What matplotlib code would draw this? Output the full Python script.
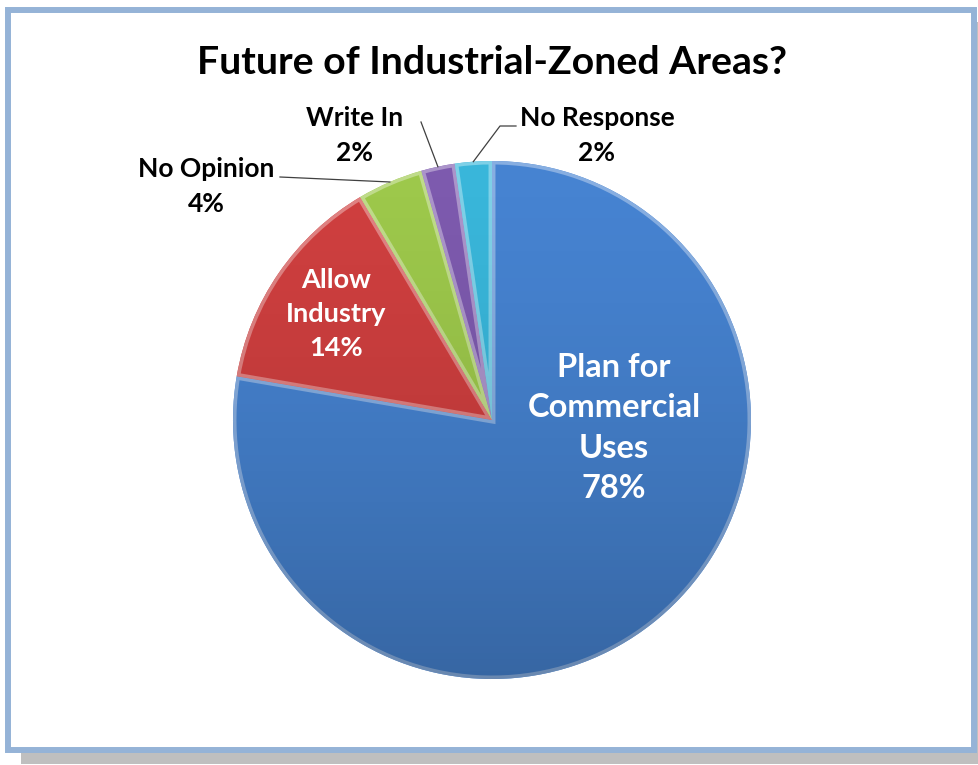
import numpy as np
import matplotlib.pyplot as plt
from matplotlib.patches import Rectangle, Wedge, Circle
from matplotlib.colors import to_rgb

plt.rcParams['font.family'] = ['Lato', 'DejaVu Sans']

title = 'Future of Industrial-Zoned Areas?'
labels = ['Plan for\nCommercial\nUses', 'Allow\nIndustry', 'No Opinion', 'Write In', 'No Response']
shares = [77.7, 13.8, 4.1, 2.1, 2.3]
pct_text = ['78%', '14%', '4%', '2%', '2%']
colors = ['#4683D1', '#CF3F3F', '#9DC84B', '#7D5AAE', '#39B6DA']

W, H = 979, 765
fig = plt.figure(figsize=(W / 100, H / 100), dpi=100)
ax = fig.add_axes([0, 0, 1, 1])

def lighten(c, f):
    c = np.array(to_rgb(c))
    return tuple(c + (1 - c) * f)

# frame with shadow
ax.add_patch(Rectangle((21, H - 764), W - 21, 764 - 22, facecolor='#BFBFBF',
                       edgecolor='none', zorder=0))
ax.add_patch(Rectangle((8, H - 750), 966, 740, facecolor='white',
                       edgecolor='#95B3D7', lw=4.3, zorder=0.5))

cx, cy, r = 492, H - 420, 259
wedges, _ = ax.pie(shares, colors=colors, startangle=90, counterclock=False,
                   center=(cx, cy), radius=r, wedgeprops=dict(edgecolor='none'))
ax.set_aspect('equal')
ax.axis('off')

# bevel rim on each slice
for w, c in zip(wedges, colors):
    rim = Wedge(w.center, w.r, w.theta1, w.theta2, fill=False,
                edgecolor=lighten(c, 0.35), lw=5, zorder=2)
    ax.add_patch(rim)
    rim.set_clip_path(w)

# darker shading towards the bottom of the pie
grad = np.linspace(0, 1, 256)[:, None]
shade = np.zeros((256, 1, 4))
shade[..., 3] = 0.22 * grad ** 1.5
im = ax.imshow(shade, extent=(cx - r, cx + r, cy - r, cy + r), origin='upper',
               aspect='auto', zorder=3)
im.set_clip_path(Circle((cx, cy), r, transform=ax.transData))
ax.set_xlim(0, W)
ax.set_ylim(0, H)

ax.text(492, H - 62, title, ha='center', va='center', fontsize=28.3,
        fontweight='bold', color='black')

# inside labels
ax.text(614, H - 428, labels[0] + '\n' + pct_text[0], ha='center', va='center',
        fontsize=23.5, fontweight='bold', color='white', linespacing=1.46, zorder=5)
ax.text(336, H - 314, labels[1] + '\n' + pct_text[1], ha='center', va='center',
        fontsize=19.5, fontweight='bold', color='white', linespacing=1.52, zorder=5)

# outside labels with leader lines
ends = np.cumsum(shares)
starts = ends - np.array(shares)
mids = 90 - (starts + ends) / 2 / sum(shares) * 360
anchor = [(cx + r * np.cos(np.radians(a)), cy + r * np.sin(np.radians(a))) for a in mids]

out_pos = {2: (206, 186), 3: (355, 135), 4: (597, 135)}
for i, (tx, ty) in out_pos.items():
    ax.text(tx, H - ty, labels[i] + '\n' + pct_text[i], ha='center', va='center',
            fontsize=19, fontweight='bold', color='black', linespacing=1.55, zorder=5)

lc = dict(color='#404040', lw=0.9, zorder=4)
ax.plot([280, anchor[2][0]], [H - 177, anchor[2][1]], **lc)
ax.plot([421, anchor[3][0]], [H - 122, anchor[3][1]], **lc)
ax.plot([516, 500, anchor[4][0]], [H - 126, H - 126, anchor[4][1]], **lc)

fig.savefig('out.png', dpi=100)
